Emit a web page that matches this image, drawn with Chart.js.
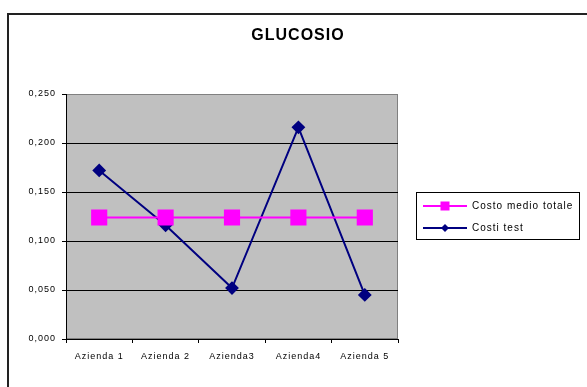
<!DOCTYPE html>
<html>
<head>
<meta charset="utf-8">
<script src="https://cdn.jsdelivr.net/npm/chart.js@4"></script>
<style>
html,body{margin:0;padding:0;background:#fff}
canvas{display:block}
</style>
</head>
<body>
<canvas id="glucosioChart" width="587" height="387"></canvas>
<script>

// dati

const aziende = ["Azienda 1","Azienda 2","Azienda3","Azienda4","Azienda 5"]
const costoMedioTotale = [0.124,0.124,0.124,0.124,0.124]
const costiTest = [0.172,0.116,0.052,0.216,0.045]
const yTicks = [0,0.05,0.10,0.15,0.20,0.25]

const titolo = "GLUCOSIO"
const nomiSerie = ["Costo medio totale","Costi test"]

const rosa = "#ff00ff"
const blu = "#000080"

Chart.defaults.font.family = "Arial, 'Liberation Sans', sans-serif"
Chart.defaults.color = "#000"


// sfondo, bordo, titolo e legenda alla Excel

const excelLook = {

id:"excelLook",

beforeDraw(chart){

const c = chart.ctx
const a = chart.chartArea

c.save()
c.fillStyle = "#fff"
c.fillRect(0,0,chart.width,chart.height)

c.strokeStyle = "#222"
c.lineWidth = 2
c.strokeRect(8,14,700,500)

c.fillStyle = "#c0c0c0"
c.fillRect(a.left,a.top,a.right-a.left,a.bottom-a.top)

c.strokeStyle = "#808080"
c.lineWidth = 1
c.strokeRect(a.left+0.5,a.top+0.5,a.right-a.left-1,a.bottom-a.top-1)

c.restore()

c.letterSpacing = "1px"

},

afterDraw(chart){

const c = chart.ctx

c.save()

c.letterSpacing = "1px"
c.fillStyle = "#000"
c.font = "bold 16px Arial, 'Liberation Sans', sans-serif"
c.textAlign = "center"
c.textBaseline = "middle"
c.fillText(titolo,298,36)

// legenda

c.strokeStyle = "#000"
c.lineWidth = 1
c.strokeRect(416.5,192.5,163,47)

const righe = [
{y:206,color:rosa,label:nomiSerie[0],quadro:true},
{y:228,color:blu,label:nomiSerie[1],quadro:false}
]

righe.forEach(r=>{

c.strokeStyle = r.color
c.lineWidth = 2
c.beginPath()
c.moveTo(423,r.y)
c.lineTo(467,r.y)
c.stroke()

c.fillStyle = r.color

if(r.quadro){

c.fillRect(440.5,r.y-4.5,9,9)

}else{

c.beginPath()
c.moveTo(445,r.y-4)
c.lineTo(449,r.y)
c.lineTo(445,r.y+4)
c.lineTo(441,r.y)
c.closePath()
c.fill()

}

c.fillStyle = "#000"
c.font = "10px Arial, 'Liberation Sans', sans-serif"
c.textAlign = "left"
c.fillText(r.label,472,r.y+0.5)

})

c.restore()

}

}


const ctx = document.getElementById("glucosioChart").getContext("2d")

const glucosioChart = new Chart(ctx,{

type:"line",

data:{
labels:aziende,
datasets:[{

label:nomiSerie[0],
data:costoMedioTotale,
borderColor:rosa,
backgroundColor:rosa,
borderWidth:2,
pointStyle:"rect",
pointRadius:10,
pointHoverRadius:10,
tension:0

},{

label:nomiSerie[1],
data:costiTest,
borderColor:blu,
backgroundColor:blu,
borderWidth:2,
pointStyle:"rectRot",
pointRadius:5.5,
pointHoverRadius:5.5,
tension:0

}]
},

options:{

responsive:false,
animation:false,
devicePixelRatio:1,

layout:{
padding:{left:0,right:189,top:94,bottom:0}
},

plugins:{
legend:{display:false},
title:{display:false},
tooltip:{enabled:false}
},

scales:{

x:{
offset:true,
afterFit(s){ s.height = 48 },
grid:{
offset:true,
drawOnChartArea:false,
tickLength:4,
tickColor:"#000"
},
border:{color:"#000",width:1},
ticks:{
font:{size:9},
color:"#000",
padding:8,
maxRotation:0
}
},

y:{
min:0,
max:0.25,
afterFit(s){ s.width = 66 },
afterBuildTicks(s){ s.ticks = yTicks.map(v=>({value:v})) },
grid:{
color:c=> c.tick && c.tick.value === 0.25 ? "#808080" : "#000",
lineWidth:1,
tickLength:4,
tickColor:"#000"
},
border:{color:"#000",width:1},
ticks:{
font:{size:9},
color:"#000",
padding:6,
callback:v=> v.toFixed(3).replace(".",",")
}
}

}

},

plugins:[excelLook]

})

</script>
</body>
</html>
